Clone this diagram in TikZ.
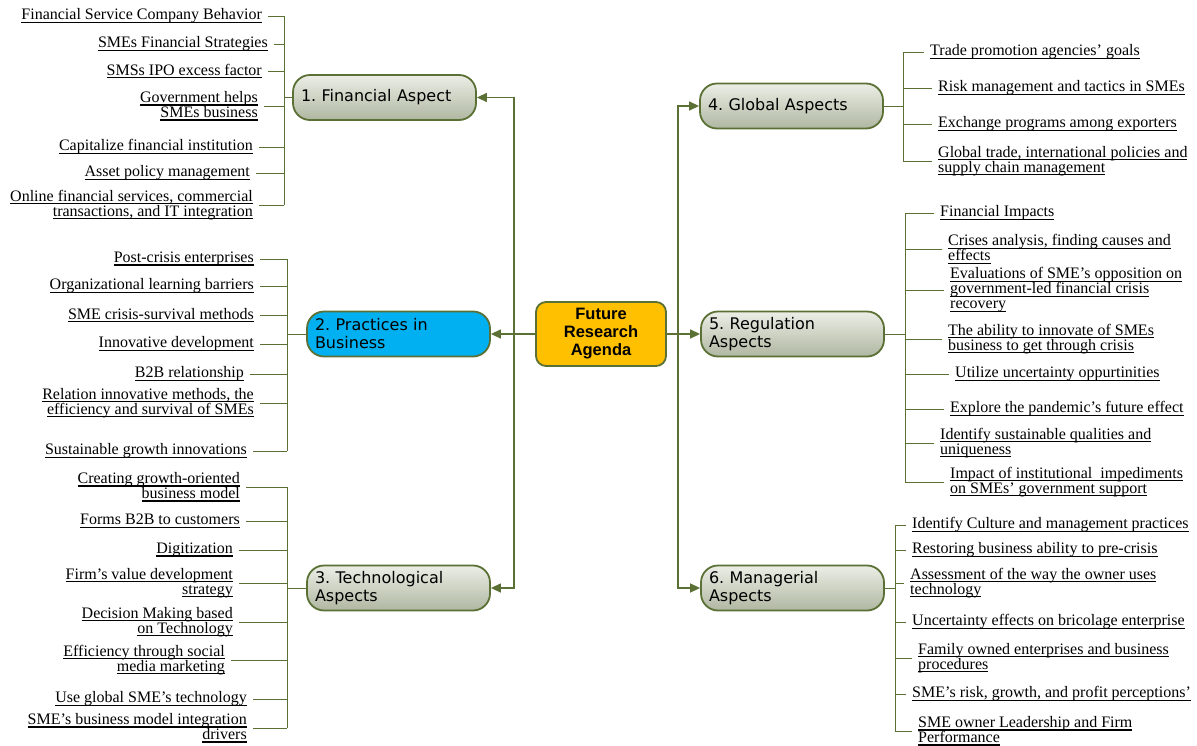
\documentclass[tikz,border=0pt]{standalone}
\usepackage{fontspec}
\setmainfont{Liberation Serif}
\newfontfamily\branchfont{DejaVu Sans}
\newfontfamily\hubfont{Liberation Sans}
\usetikzlibrary{arrows.meta}

\definecolor{linegreen}{HTML}{5B7035}
\definecolor{boxtop}{HTML}{ECEEE6}
\definecolor{boxbot}{HTML}{AFB7A1}
\definecolor{hubfill}{HTML}{FFC000}
\definecolor{cyanfill}{HTML}{00B0F0}

% underlined text line
\newcommand\undl[1]{\setbox0=\hbox{#1}\rlap{\vrule width\wd0 height -1.9pt depth 3.0pt}\box0}

\tikzset{
  conn/.style={draw=linegreen, line width=1pt},
  trunk/.style={draw=linegreen, line width=1.4pt},
  arr/.style={trunk, -{Triangle[length=10pt,width=9pt]}},
  branch/.style={draw=linegreen, line width=1.8pt, rounded corners=17pt,
    top color=boxtop, bottom color=boxbot,
    minimum width=183pt, minimum height=45pt, text width=167pt,
    inner xsep=8pt, align=left,
    font=\branchfont\frenchspacing\fontsize{16}{18}\selectfont},
  hub/.style={draw=linegreen, line width=1.8pt, rounded corners=10pt,
    fill=hubfill, minimum width=130pt, minimum height=64pt, align=center,
    font=\hubfont\bfseries\fontsize{16.5}{18}\selectfont},
  leafL/.style={anchor=east, align=right, inner sep=0pt, yshift=-2pt,
    font=\frenchspacing\fontsize{16}{15}\selectfont},
  leafR/.style={anchor=west, align=left, inner sep=0pt, yshift=-2pt,
    font=\frenchspacing\fontsize{16}{15}\selectfont},
}

\begin{document}
\begin{tikzpicture}[x=1pt, y=-1pt]
\useasboundingbox (0,0) rectangle (1197,745);

% central hub and main branches
\node[hub] (hub) at (601,334) {Future\\Research\\Agenda};
\node[branch] (fin)  at (384.5,97.5) {1. Financial Aspect};
\node[branch, fill=cyanfill, top color=cyanfill, bottom color=cyanfill] (prac) at (398.5,334) {2. Practices in\\Business};
\node[branch] (tech) at (398.5,588) {3. Technological\\Aspects};
\node[branch] (glob) at (791.5,106) {4. Global Aspects};
\node[branch] (reg)  at (792.5,334) {5. Regulation\\Aspects};
\node[branch] (man)  at (792.5,588) {6. Managerial\\Aspects};

% trunks
\coordinate (cl) at (514,334);
\coordinate (cr) at (678,334);
\draw[arr] (hub.west) -- (prac.east);
\draw[arr] (cl) |- (fin.east);
\draw[arr] (cl) |- (tech.east);
\draw[arr] (hub.east) -- (reg.west);
\draw[arr] (cr) |- (glob.west);
\draw[arr] (cr) |- (man.west);

% 1. Financial aspect
\node[leafL] (f1) at (262,14)  {\undl{Financial Service Company Behavior}};
\node[leafL] (f2) at (268,42)  {\undl{SMEs Financial Strategies}};
\node[leafL] (f3) at (262,69)  {\undl{SMSs IPO excess factor}};
\node[leafL] (f4) at (258,104) {\undl{Government helps}\\\undl{SMEs business}};
\node[leafL] (f5) at (253,145) {\undl{Capitalize financial institution}};
\node[leafL] (f6) at (250,171) {\undl{Asset policy management}};
\node[leafL] (f7) at (253,203) {\undl{Online financial services, commercial}\\\undl{transactions, and IT integration}};
\coordinate (fbar) at (284,0);
\draw[conn] (fin.west) -- (fin.west -| fbar);
\draw[conn] (f1.east -| fbar) -- (f7.east -| fbar);
\foreach \n in {f1,f2,f3,f4,f5,f6,f7}
  \draw[conn] ([xshift=6pt]\n.east) -- (\n.east -| fbar);

% 2. Practices in business
\node[leafL] (p1) at (254,257) {\undl{Post-crisis enterprises}};
\node[leafL] (p2) at (254,284) {\undl{Organizational learning barriers}};
\node[leafL] (p3) at (254,313) {\undl{SME crisis-survival methods}};
\node[leafL] (p4) at (254,342) {\undl{Innovative development}};
\node[leafL] (p5) at (244,372) {\undl{B2B relationship}};
\node[leafL] (p6) at (254,401) {\undl{Relation innovative methods, the}\\\undl{efficiency and survival of SMEs}};
\node[leafL] (p7) at (247,449) {\undl{Sustainable growth innovations}};
\coordinate (pbar) at (287,0);
\draw[conn] (prac.west) -- (prac.west -| pbar);
\draw[conn] (p1.east -| pbar) -- (p7.east -| pbar);
\foreach \n in {p1,p2,p3,p4,p5,p6,p7}
  \draw[conn] ([xshift=6pt]\n.east) -- (\n.east -| pbar);

% 3. Technological aspects
\node[leafL] (t1) at (240,485) {\undl{Creating growth-oriented}\\\undl{business model}};
\node[leafL] (t2) at (240,519) {\undl{Forms B2B to customers}};
\node[leafL] (t3) at (233,548) {\undl{Digitization}};
\node[leafL] (t4) at (233,581) {\undl{Firm’s value development}\\\undl{strategy}};
\node[leafL] (t5) at (233,620) {\undl{Decision Making based}\\\undl{on Technology}};
\node[leafL] (t6) at (225,658) {\undl{Efficiency through social}\\\undl{media marketing}};
\node[leafL] (t7) at (247,697) {\undl{Use global SME’s technology}};
\node[leafL] (t8) at (247,726) {\undl{SME’s business model integration}\\\undl{drivers}};
\coordinate (tbar) at (287,0);
\draw[conn] (tech.west) -- (tech.west -| tbar);
\draw[conn] (t1.east -| tbar) -- (t8.east -| tbar);
\foreach \n in {t1,t2,t3,t4,t5,t6,t7,t8}
  \draw[conn] ([xshift=6pt]\n.east) -- (\n.east -| tbar);

% 4. Global aspects
\node[leafR] (g1) at (930,50)  {\undl{Trade promotion agencies’ goals}};
\node[leafR] (g2) at (938,86)  {\undl{Risk management and tactics in SMEs}};
\node[leafR] (g3) at (938,122) {\undl{Exchange programs among exporters}};
\node[leafR] (g4) at (938,159) {\undl{Global trade, international policies and}\\\undl{supply chain management}};
\coordinate (gbar) at (903,0);
\draw[conn] (glob.east) -- (glob.east -| gbar);
\draw[conn] (g1.west -| gbar) -- (g4.west -| gbar);
\foreach \n in {g1,g2,g3,g4}
  \draw[conn] ([xshift=-6pt]\n.west) -- (\n.west -| gbar);

% 5. Regulation aspects
\node[leafR] (r1) at (940,211) {\undl{Financial Impacts}};
\node[leafR] (r2) at (948,247) {\undl{Crises analysis, finding causes and}\\\undl{effects}};
\node[leafR] (r3) at (950,288) {\undl{Evaluations of SME’s opposition on}\\\undl{government-led financial crisis}\\\undl{recovery}};
\node[leafR] (r4) at (948,337) {\undl{The ability to innovate of SMEs}\\\undl{business to get through crisis}};
\node[leafR] (r5) at (955,372) {\undl{Utilize uncertainty oppurtinities}};
\node[leafR] (r6) at (950,407) {\undl{Explore the pandemic’s future effect}};
\node[leafR] (r7) at (940,441) {\undl{Identify sustainable qualities and}\\\undl{uniqueness}};
\node[leafR] (r8) at (950,480) {\undl{Impact of institutional\ \ impediments}\\\undl{on SMEs’ government support}};
\coordinate (rbar) at (905,0);
\draw[conn] (reg.east) -- (reg.east -| rbar);
\draw[conn] (r1.west -| rbar) -- (r8.west -| rbar);
\foreach \n in {r1,r2,r3,r4,r5,r6,r7,r8}
  \draw[conn] ([xshift=-6pt]\n.west) -- (\n.west -| rbar);

% 6. Managerial aspects
\node[leafR] (m1) at (912,523) {\undl{Identify Culture and management practices}};
\node[leafR] (m2) at (912,548) {\undl{Restoring business ability to pre-crisis}};
\node[leafR] (m3) at (910,581) {\undl{Assessment of the way the owner uses}\\\undl{technology}};
\node[leafR] (m4) at (912,620) {\undl{Uncertainty effects on bricolage enterprise}};
\node[leafR] (m5) at (918,656) {\undl{Family owned enterprises and business}\\\undl{procedures}};
\node[leafR] (m6) at (912,692) {\undl{SME’s risk, growth, and profit perceptions’}};
\node[leafR] (m7) at (918,729) {\undl{SME owner Leadership and Firm}\\\undl{Performance}};
\coordinate (mbar) at (895,0);
\draw[conn] (man.east) -- (man.east -| mbar);
\draw[conn] (m1.west -| mbar) -- (m7.west -| mbar);
\foreach \n in {m1,m2,m3,m4,m5,m6,m7}
  \draw[conn] ([xshift=-6pt]\n.west) -- (\n.west -| mbar);
\end{tikzpicture}
\end{document}
